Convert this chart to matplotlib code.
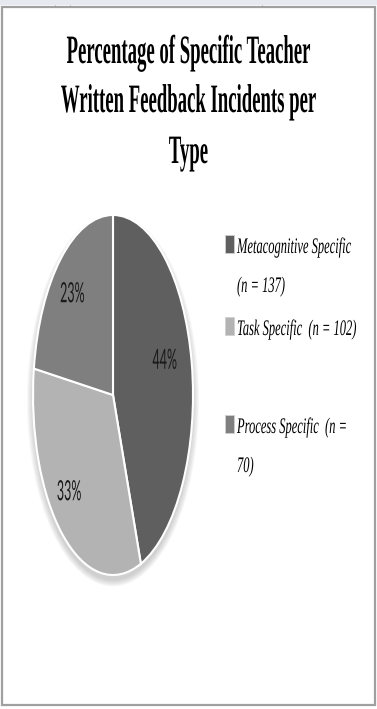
import matplotlib
matplotlib.use("Agg")
import matplotlib.pyplot as plt
from matplotlib.patches import Rectangle, Ellipse
from matplotlib.patheffects import AbstractPathEffect
from matplotlib.transforms import Affine2D

W, H = 377, 709

title_lines = ["Percentage of Specific Teacher", "Written Feedback Incidents per", "Type"]
categories = ["Metacognitive Specific", "Task Specific", "Process Specific"]
counts = [137, 102, 70]
legend_fmt = ["{}\n(n = {})", "{}  (n = {})", "{}  (n =\n{})"]
colors = ["#5f5f5f", "#b3b3b3", "#7f7f7f"]


class Squeeze(AbstractPathEffect):
    # rescales glyphs about the baseline: sx narrows (around line centre or
    # left edge), sy makes them taller
    def __init__(self, sx, sy=1.0, anchor="center"):
        super().__init__()
        self.sx = sx
        self.sy = sy
        self.anchor = anchor

    def draw_path(self, renderer, gc, tpath, affine, rgbFace=None):
        m = affine.get_matrix()
        if self.anchor == "center":
            ext = tpath.get_extents(affine)
            cx = (ext.x0 + ext.x1) / 2
        else:
            cx = m[0, 2]
        cy = m[1, 2]
        squeeze = (Affine2D().translate(-cx, -cy).scale(self.sx, self.sy)
                   .translate(cx, cy))
        renderer.draw_path(gc, tpath, affine + squeeze, rgbFace)


def fx(x):
    return x / W


def fy(y):
    return 1 - y / H


fig = plt.figure(figsize=(W / 100, H / 100), dpi=100)

# spreadsheet strip above the chart box
fig.patches.append(Rectangle((0, fy(5)), 1, 5 / H, transform=fig.transFigure,
                             facecolor="#e6eaf0", edgecolor="none", zorder=-2))
for gx in [55, 70, 262]:
    fig.lines.append(plt.Line2D([fx(gx)] * 2, [fy(5), 1], transform=fig.transFigure,
                                color="#c8ccd2", lw=0.8, zorder=-2))
# chart box
fig.patches.append(Rectangle((fx(2), fy(705)), fx(373), 698 / H, transform=fig.transFigure,
                             facecolor="white", edgecolor="#a0a0a0", lw=1.6, zorder=-1))

title_base = [63, 112, 163]
for line, yb in zip(title_lines, title_base):
    fig.text(0.5, fy(yb), line, ha="center", va="baseline", fontsize=18,
             family="Liberation Serif", weight="bold",
             path_effects=[Squeeze(0.75, 29 / 18)])

# pie, stretched into the tall oval
ax = fig.add_axes([fx(33), fy(575), fx(160), 360 / H])
for k in range(7):
    ax.add_patch(Ellipse((0, -0.03), 2 + 2 * k / 80, 2 + 2 * k / 180,
                         facecolor="#808080", edgecolor="none", alpha=0.06,
                         zorder=0.5, clip_on=False))
wedges, _, autotexts = ax.pie(counts, colors=colors, startangle=90, counterclock=False,
                              autopct="%1.0f%%",
                              wedgeprops=dict(edgecolor="white", linewidth=1.5, clip_on=False),
                              textprops=dict(fontsize=20, family="Lato", color="#1a1a1a"))
ax.set_aspect("auto")
ax.set_xlim(-1, 1)
ax.set_ylim(-1, 1)
ax.axis("off")
label_pos = [(0.65, 0.19), (-0.55, -0.54), (-0.51, 0.56)]
for t, pos in zip(autotexts, label_pos):
    t.set_position(pos)
    t.set_path_effects([Squeeze(0.45)])

# legend
entry_base = [253, 335, 433]
line_step = 39
for name, n, fmt, c, base in zip(categories, counts, legend_fmt, colors, entry_base):
    fig.patches.append(Rectangle((fx(225), fy(base)), fx(9), 18 / H, transform=fig.transFigure,
                                 facecolor=c, edgecolor="#d0d0d0", lw=0.6))
    for i, line in enumerate(fmt.format(name, n).split("\n")):
        fig.text(fx(237), fy(base + i * line_step), line, ha="left", va="baseline",
                 fontsize=9, family="Liberation Serif", style="italic",
                 path_effects=[Squeeze(1.0, 16 / 9, "left")])

fig.savefig("out.png", dpi=100)
